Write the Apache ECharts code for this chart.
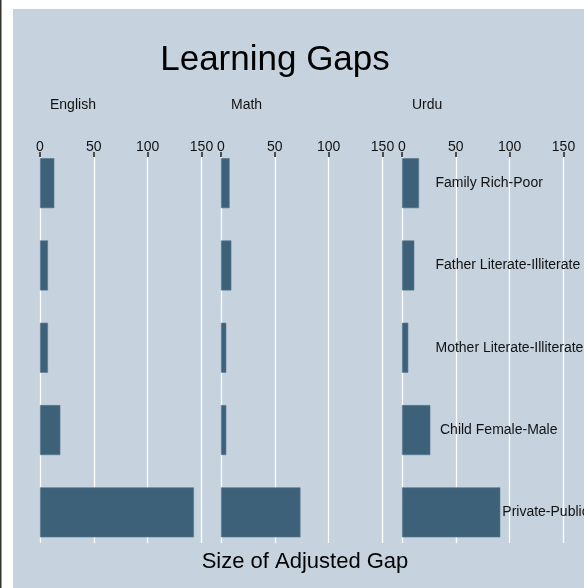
<!DOCTYPE html>
<html>
<head>
<meta charset="utf-8">
<script src="https://cdn.jsdelivr.net/npm/echarts@6/dist/echarts.min.js"></script>
<style>
  html, body { margin: 0; padding: 0; background: #fff; }
  #chart { width: 584px; height: 588px; }
</style>
</head>
<body>
<div id="chart"></div>
<script>
// data
const categories = ['Family Rich-Poor', 'Father Literate-Illiterate', 'Mother Literate-Illiterate', 'Child Female-Male', 'Private-Public'];
const subjects = ['English', 'Math', 'Urdu'];
const english = [13.3, 7.4, 7.4, 18.9, 143];
const math = [8, 9.6, 4.9, 4.9, 73.8];
const urdu = [15.8, 11.4, 5.8, 26.3, 91.3];
const tickValues = [0, 50, 100, 150];

const values = [english, math, urdu];
const panelLeft = [40, 221, 402];
const panelWidth = 161.5;
const barColor = '#3e617a';
const font = 'Liberation Sans, Arial, Helvetica, sans-serif';

const myChart = echarts.init(document.getElementById('chart'));

const grids = [], xAxes = [], yAxes = [], series = [];
panelLeft.forEach((left, i) => {
    // grid for the gridlines and the top axis
    grids.push({ left: left, width: panelWidth, top: 157, height: 386 });
    // grid for the bars
    grids.push({ left: left, width: panelWidth, top: 142, height: 411.5 });

    xAxes.push({
        gridIndex: 2 * i, type: 'value', position: 'top',
        min: tickValues[0], max: tickValues[tickValues.length - 1], interval: 50,
        axisLine: { show: false },
        axisTick: { show: true, length: 5, lineStyle: { color: '#222', width: 1.5 } },
        axisLabel: { color: '#111', fontSize: 14, fontFamily: font, margin: 3 },
        splitLine: { show: true, lineStyle: { color: '#fff', width: 1.3 } }
    });
    xAxes.push({
        gridIndex: 2 * i + 1, type: 'value', show: false,
        min: tickValues[0], max: tickValues[tickValues.length - 1]
    });
    yAxes.push({ gridIndex: 2 * i, type: 'category', data: categories, show: false, inverse: true });
    yAxes.push({ gridIndex: 2 * i + 1, type: 'category', data: categories, show: false, inverse: true });

    const data = values[i].map((v, j) => {
        const item = { value: v };
        if (i === 2) {
            if (j === categories.length - 1) {
                item.label = { show: true, position: 'right', distance: 2 };
            } else {
                item.label = { show: true, position: [j === 3 ? 38 : 33.5, '50%'], verticalAlign: 'middle' };
            }
        }
        return item;
    });
    series.push({
        type: 'bar', xAxisIndex: 2 * i + 1, yAxisIndex: 2 * i + 1,
        barWidth: 50, data: data,
        itemStyle: { color: barColor, borderColor: '#56778f', borderWidth: 0.6 },
        label: { show: false, formatter: '{b}', color: '#111', fontSize: 14, fontFamily: font },
        silent: true, animation: false
    });
});

const graphics = [
    { type: 'rect', shape: { x: 13, y: 9, width: 571, height: 579 }, style: { fill: '#c6d3df' }, z: -10 },
    { type: 'rect', shape: { x: 0, y: 0, width: 1.5, height: 588 }, style: { fill: '#333' }, z: -10 },
    { type: 'text', x: 275, y: 60, style: { text: 'Learning Gaps', font: '35px ' + font, fill: '#000', align: 'center', verticalAlign: 'middle', textAlign: 'center', textVerticalAlign: 'middle' } },
    { type: 'text', x: 305, y: 562, style: { text: 'Size of Adjusted Gap', font: '22px ' + font, fill: '#000', align: 'center', verticalAlign: 'middle', textAlign: 'center', textVerticalAlign: 'middle' } }
];
subjects.forEach((s, i) => {
    graphics.push({ type: 'text', x: panelLeft[i] + 10, y: 105, style: { text: s, font: '14px ' + font, fill: '#111', align: 'left', verticalAlign: 'middle', textAlign: 'left', textVerticalAlign: 'middle' } });
});

myChart.setOption({
    backgroundColor: '#fff',
    animation: false,
    grid: grids,
    xAxis: xAxes,
    yAxis: yAxes,
    series: series,
    graphic: graphics
});
</script>
</body>
</html>
